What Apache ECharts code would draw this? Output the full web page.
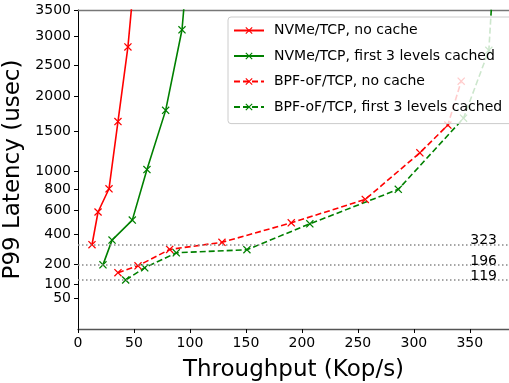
<!DOCTYPE html>
<html>
<head>
<meta charset="utf-8">
<script src="https://cdn.jsdelivr.net/npm/echarts@6/dist/echarts.min.js"></script>
<style>
  html, body { margin: 0; padding: 0; background: #fff; }
  #main { width: 509px; height: 383px; }
</style>
</head>
<body>
<div id="main"></div>
<script>
// y axis is a power scale (v^P), drawn on a linear axis
const P = 0.57;

const yTicks = [100, 200, 400, 600, 800, 1000, 1500, 2000, 2500, 3000, 3500];
const yTicksLow = [50]; // on its own axis so it isn't dropped for overlapping 100
const xTicks = [0, 50, 100, 150, 200, 250, 300, 350];
const refLines = [323, 196, 119];

const nvmeNoCacheX = [12.5, 17.9, 27.7, 35.7, 44.6, 52];
const nvmeNoCacheY = [323, 585, 810, 1630, 2815, 4600];

const nvmeCachedX = [22.3, 30.4, 48.5, 61.6, 78.3, 92.9, 98.5];
const nvmeCachedY = [196, 356, 514, 1020, 1790, 3125, 4600];

const bpfNoCacheX = [35.7, 53.6, 81.9, 128.6, 190.5, 256.6, 305.4, 330.4, 342.3];
const bpfNoCacheY = [154, 191, 291, 340, 491, 703, 1219, 1582, 2236];

const bpfCachedX = [42.6, 59.6, 87.8, 150.9, 207.1, 286.1, 344.4, 367, 372];
const bpfCachedY = [119, 180, 269, 289, 483, 804, 1677, 2755, 4600];

const FONT = 'DejaVu Sans';
const RED = '#ff0000';
const GREEN = '#008000';
const XMARK = 'path://M0,1.1L1.1,0L5,3.9L8.9,0L10,1.1L6.1,5L10,8.9L8.9,10L5,6.1L1.1,10L0,8.9L3.9,5Z';

const tf = v => Math.pow(v, P);
const pts = (xs, ys) => xs.map((x, i) => [x, tf(ys[i])]);
const Y_MIN = -1;
const Y_MAX = tf(3500);

function mkSeries(name, xs, ys, color, dashed, withRefs) {
  const s = {
    name: name,
    type: 'line',
    data: pts(xs, ys),
    symbol: XMARK,
    symbolSize: 8,
    showAllSymbol: true,
    clip: true,
    itemStyle: { color: color },
    lineStyle: { color: color, width: 1.6, type: dashed ? [6, 3] : 'solid' },
    emphasis: { disabled: true },
    z: 3
  };
  if (withRefs) {
    s.markLine = {
      silent: true,
      symbol: 'none',
      lineStyle: { color: '#888', width: 1.5, type: [1.5, 2.5] },
      label: {
        show: true,
        position: 'insideEndTop',
        distance: [12, -3],
        color: '#000',
        fontFamily: FONT,
        fontSize: 14,
        formatter: p => String(p.data.val)
      },
      data: refLines.map(v => ({ yAxis: tf(v), val: v }))
    };
  }
  return s;
}

function yLabels(ticks) {
  return {
    show: true, margin: 7, fontSize: 14, color: '#000', fontFamily: FONT,
    showMinLabel: true, showMaxLabel: true, hideOverlap: false,
    customValues: ticks.map(tf),
    formatter: v => String(Math.round(Math.pow(v, 1 / P)))
  };
}

const chart = echarts.init(document.getElementById('main'));

const option = {
  animation: false,
  backgroundColor: '#fff',
  textStyle: { fontFamily: FONT },
  grid: {
    left: 78, right: 0, top: 10, bottom: 54,
    containLabel: false,
    outerBoundsMode: 'none'
  },
  legend: {
    orient: 'vertical',
    left: 228,
    top: 17,
    padding: [6.5, 13, 9.6, 5],
    itemWidth: 30,
    itemHeight: 9,
    itemGap: 11.5,
    backgroundColor: 'rgba(255,255,255,0.8)',
    borderColor: '#cccccc',
    borderWidth: 1,
    borderRadius: 3,
    textStyle: { fontFamily: FONT, fontSize: 14, color: '#000', padding: [0, 0, 0, 5] },
    data: ['NVMe/TCP, no cache', 'NVMe/TCP, first 3 levels cached',
           'BPF-oF/TCP, no cache', 'BPF-oF/TCP, first 3 levels cached']
  },
  xAxis: [
    {
      type: 'value',
      min: 0,
      max: 385,
      name: 'Throughput (Kop/s)',
      nameLocation: 'middle',
      nameGap: 30,
      nameTextStyle: { fontFamily: FONT, fontSize: 23, color: '#000' },
      axisLine: { show: true, onZero: false, lineStyle: { color: '#555', width: 1.4 } },
      axisTick: { show: true, inside: false, length: 4, customValues: xTicks, lineStyle: { color: '#000' } },
      axisLabel: { show: true, margin: 7, fontSize: 14, color: '#000', fontFamily: FONT, customValues: xTicks },
      splitLine: { show: false }
    },
    {
      type: 'value',
      position: 'top',
      min: 0,
      max: 385,
      axisLine: { show: true, onZero: false, lineStyle: { color: '#777', width: 1.4 } },
      axisTick: { show: false },
      axisLabel: { show: false },
      splitLine: { show: false }
    }
  ],
  yAxis: [
    {
      type: 'value',
      min: Y_MIN,
      max: Y_MAX,
      name: 'P99 Latency (usec)',
      nameLocation: 'middle',
      nameGap: 43,
      nameTextStyle: { fontFamily: FONT, fontSize: 23, color: '#000' },
      axisLine: { show: true, onZero: false, lineStyle: { color: '#000', width: 1 } },
      axisTick: { show: true, inside: false, length: 4, customValues: yTicks.map(tf), lineStyle: { color: '#000' } },
      axisLabel: yLabels(yTicks),
      splitLine: { show: false }
    },
    {
      type: 'value',
      position: 'left',
      min: Y_MIN,
      max: Y_MAX,
      axisLine: { show: false, onZero: false },
      axisTick: { show: true, inside: false, length: 4, customValues: yTicksLow.map(tf), lineStyle: { color: '#000' } },
      axisLabel: yLabels(yTicksLow),
      splitLine: { show: false }
    }
  ],
  series: [
    mkSeries('NVMe/TCP, no cache', nvmeNoCacheX, nvmeNoCacheY, RED, false, true),
    mkSeries('NVMe/TCP, first 3 levels cached', nvmeCachedX, nvmeCachedY, GREEN, false, false),
    mkSeries('BPF-oF/TCP, no cache', bpfNoCacheX, bpfNoCacheY, RED, true, false),
    mkSeries('BPF-oF/TCP, first 3 levels cached', bpfCachedX, bpfCachedY, GREEN, true, false)
  ]
};

chart.setOption(option);
</script>
</body>
</html>
